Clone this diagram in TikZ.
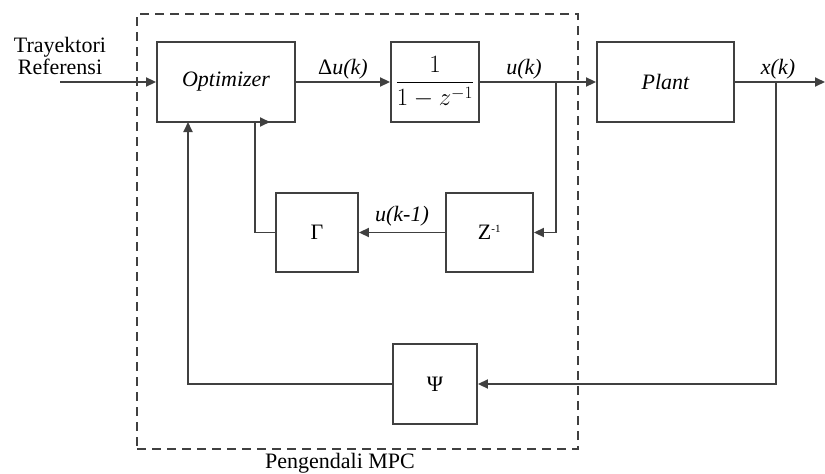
\documentclass[tikz,border=0pt]{standalone}
\usepackage{fontspec}
\setmainfont{Liberation Serif}
\usetikzlibrary{arrows.meta,positioning}
\begin{document}
\begin{tikzpicture}[x=1pt,y=-1pt,
  blk/.style={draw=black!75,line width=1.9pt,inner sep=0pt,font=\fontsize{22}{24}\selectfont},
  wire/.style={draw=black!75,line width=1.9pt},
  arr/.style={wire,-{Triangle[length=10pt,width=9pt]}},
  lbl/.style={font=\fontsize{22}{24}\selectfont,inner sep=0pt}]
\useasboundingbox (0,0) rectangle (825,474);
\fill[white] (0,0) rectangle (825,474);
% dashed MPC boundary
\node[draw=black!75,line width=1.9pt,dash pattern=on 9pt off 6pt,inner sep=0pt,
  minimum width=441pt,minimum height=435pt] (mpc) at (357.5,231.5) {};
\node[lbl] (mpclbl) at (340,463) {Pengendali MPC};
% blocks
\node[blk,minimum width=138pt,minimum height=80pt] (opt) at (226,82) {\itshape Optimizer};
\node[blk,minimum width=88pt,minimum height=80pt] (tf) at (435,82) {\fontsize{24}{26}\selectfont$\displaystyle\frac{1}{1-z^{-1}}$};
\node[blk,minimum width=137pt,minimum height=80pt] (plant) at (665.5,82) {\itshape Plant};
\node[blk,minimum width=82pt,minimum height=79pt] (gam) at (317,232.5) {Γ};
\node[blk,minimum width=87pt,minimum height=79pt] (zinv) at (489.5,232.5) {Z\textsuperscript{\fontsize{11}{11}\selectfont -1}};
\node[blk,minimum width=84pt,minimum height=80pt] (psi) at (435,384) {Ψ};
% labels
\node[lbl,align=center] (ref) at (60,56) {Trayektori\\[-2pt]Referensi};
\node[lbl] (du) at (343,69) {Δ\textit{u(k)}};
\node[lbl] (uk) at (524,69) {\textit{u(k)}};
\node[lbl] (xk) at (778,69) {\textit{x(k)}};
\node[lbl] (ukm) at (402,216) {\textit{u(k-1)}};
% coordinates
\coordinate (in) at (60,82);
\coordinate (ub) at (556,82);
\coordinate (xb) at (776,82);
\coordinate (out) at (825,82);
\coordinate (gk) at (255,122);
\coordinate (gt) at (270,122);
\coordinate (pk) at (188,122);
% connectors
\draw[arr] (in) -- (opt.west);
\draw[arr] (opt.east) -- (tf.west);
\draw[arr] (tf.east) -- (plant.west);
\draw[arr] (plant.east) -- (out);
\draw[arr] (ub) |- (zinv.east);
\draw[arr] (zinv.west) -- (gam.east);
\draw[wire] (gam.west) -| (gk);
\draw[arr] (gk) -- (gt);
\draw[arr] (xb) |- (psi.east);
\draw[arr] (psi.west) -| (pk);
\end{tikzpicture}
\end{document}
